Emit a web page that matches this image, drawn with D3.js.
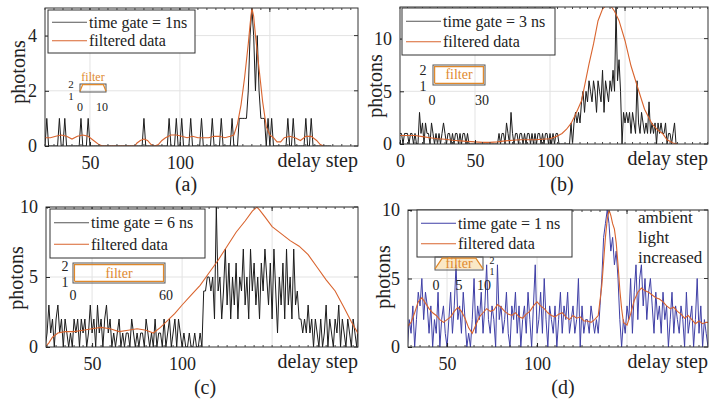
<!DOCTYPE html>
<html>
<head>
<meta charset="utf-8">
<script src="https://cdn.jsdelivr.net/npm/d3@7"></script>
<style>
body { margin: 0; background: #fff; }
</style>
</head>
<body>
<svg id="fig" width="709" height="401"></svg>
<script>
"use strict";

var SERIF = "'Liberation Serif', serif";
var ORANGE = "#d9642e";
var FILTER_TXT = "#e08a30";

// ---- (a) time gate = 1 ns ----
var aStart = 25;
var aRaw = [0,1,0,0,0,0,0,0,1,0, 0,1,0,0,0,0,0,0,0,0, 1,0,0,0,1,0,0,0,0,0,
  0,0,0,0,0,0,0,0,0,0, 0,0,0,0,0,0,0,0,0,0, 0,0,0,0,0,1,0,0,0,0,
  0,0,0,0,0,0,0,0,0,1, 0,0,0,1,0,0,1,0,0,0, 0,1,0,0,0,0,0,1,0,0,
  0,0,0,1,0,0,0,0,1,0, 0,0,0,0,1,0,0,0,1,1, 1,1,1,2,4,5,4,2,4,2,
  1,1,1,0,1,0,1,0,0,0, 0,0,0,0,0,1,0,0,1,0, 0,0,0,0,0,1,0,0,1,0,
  0,0,0,0,0,0,0,0,0,0];
var aFiltStep = [25,28,31,34,37,40,43,46,49,52,55,57,75,76,78,80,82,84,86,88,90,92,95,98,101,104,107,110,113,116,
  119,122,125,128,130,132,134,136,138,139,140,141,142,144,146,148,150,152,154,156,158,161,164,167,170,173,176,178,180];
var aFiltVal = [0.3,0.3,0.35,0.4,0.35,0.25,0.35,0.4,0.35,0.2,0.05,0,0,0.1,0.2,0.25,0.2,0.05,0,0.05,0.2,0.3,0.4,0.4,0.35,0.3,0.35,0.3,0.3,0.3,
  0.35,0.35,0.3,0.35,0.4,0.8,1.5,2.5,3.7,4.4,5,4.7,4.0,2.8,1.6,0.7,0.4,0.3,0.15,0.15,0.3,0.35,0.3,0.2,0.35,0.35,0.2,0.05,0];
var aKernelX = [0,1,9,10];
var aKernelY = [1,2,2,1];

// ---- (b) time gate = 3 ns ----
var bStart = 0;
var bRaw = [1,1,0,1,1,1,0,1,1,0, 1,0,0,3,1,2,0,2,1,1, 0,2,1,0,1,0,1,0,1,2,
  1,0,1,1,0,1,0,1,1,0, 1,0,1,1,0,1,0,0,0,0, 0,0,0,0,0,0,0,0,0,0,
  0,0,0,0,0,0,1,0,1,1, 0,2,1,0,3,1,0,1,1,0, 1,1,0,1,0,1,1,0,1,0,
  1,0,1,1,0,1,0,1,1,0, 1,0,1,0,1,1,0,0,0,0, 0,0,0,0,2,0,2,3,2,3,
  2,4,5,3,5,4,6,5,4,6, 5,3,6,5,4,7,3,6,5,4, 6,5,7,5,13,6,8,5,0,3,
  2,3,2,3,1,3,2,1,6,2, 1,3,2,1,2,1,4,1,2,1, 2,0,2,1,2,1,1,2,0,1,
  1,0,1,2,0,0];
var bFiltStep = [0,5,10,15,20,25,30,35,40,45,50,55,60,65,70,75,80,85,90,95,100,104,108,111,114,117,121,123,126,129,
  132,135,137,139,141,143,146,150,154,159,163,168,172,175,178,182,185];
var bFiltVal = [0.8,0.8,0.8,0.7,0.6,0.5,0.45,0.35,0.3,0.25,0.2,0.15,0.15,0.2,0.3,0.35,0.4,0.4,0.4,0.45,0.5,0.7,1.0,1.4,1.95,2.8,4.1,5.5,7.6,9.5,
  11.7,12.8,13.1,13.2,13.0,12.6,11.7,9.8,7.4,5.1,3.3,1.9,1.3,1.0,0.4,0.1,0];
var bKernelX = [0,0,30,30,0];
var bKernelY = [1,2,2,1,1];

// ---- (c) time gate = 6 ns ----
var cStart = 24;
var cRaw = [0,1,3,1,2,0,2,3,1,2, 0,2,1,0,1,0,2,1,2,0, 2,1,2,0,1,3,1,2,0,3,
  1,2,0,2,3,1,2,0,1,0, 1,2,0,1,0,1,1,0,2,1, 0,1,0,1,1,0,2,1,0,1,
  0,2,0,1,1,0,2,0,1,2, 0,1,2,0,2,1,0,1,0,0, 1,0,0,1,0,0,1,0,4,4,
  5,5,4,5,2,10,4,5,2,4, 7,3,6,2,5,3,6,2,5,4, 7,3,5,2,7,4,6,3,5,2,
  6,4,7,5,3,6,2,7,4,1, 5,3,6,2,7,3,5,2,7,3, 4,2,2,1,2,1,3,1,2,0,
  2,1,0,2,0,1,3,0,2,1, 0,2,1,3,0,2,1,0,2,1, 0,2,1,0,2];
var cFiltStep = [24,26,28,31,35,40,45,50,55,60,65,70,75,80,84,88,92,96,100,105,110,115,120,125,130,135,139,141.5,143,146,
  150,155,160,165,170,175,180,185,190,194,198];
var cFiltVal = [0,0.3,0.7,1.0,1.1,1.1,1.2,1.3,1.4,1.3,1.1,1.2,1.3,1.2,1.0,1.4,1.9,2.4,3.0,3.7,4.4,5.3,6.2,7.2,8.2,9.0,9.7,10.0,9.8,9.3,
  8.6,8.1,7.6,7.2,6.6,5.7,4.8,4.0,2.8,1.8,0.9];
var cKernelX = [0,0,60,60,0];
var cKernelY = [1,2,2,1,1];

// ---- (d) time gate = 1 ns, ambient light increased ----
var dStart = 28;
var dRaw = [0,2,1,3,0,2,4,3,5,2, 4,3,1,3,0,2,1,4,0,2, 3,1,0,2,4,1,3,6,2,3,
  1,4,2,0,1,0,2,5,1,3, 2,4,1,3,6,2,1,3,2,0, 6,2,3,1,2,4,1,0,3,2,
  4,1,3,0,2,3,1,4,2,0, 3,6,1,2,4,1,5,2,0,3, 2,1,3,0,2,4,1,3,2,4,
  1,2,3,1,2,5,0,3,1,2, 2,1,3,2,1,2,1,3,5,8, 9,10,9,7,8,6,7,5,2,0,
  2,1,3,2,5,1,4,6,2,5, 6,3,5,2,4,5,3,1,4,2, 3,1,4,2,3,0,2,4,1,3,
  2,1,3,2,0,4,1,2,3,0, 2,5,1,3,0,2,1,0];
var dFiltStep = [28,30,32,34,36,38,40,42,44,46,48,50,52,54,56,58,60,62,64,66,68,70,72,74,76,78,80,82,84,86,
  88,90,92,94,96,98,100,102,104,106,108,110,112,114,116,118,120,122,124,126,128,130,132,134,136,138,
  139,140,141,142,143,144,145,146,147,148,150,152,154,156,158,160,162,164,166,168,170,172,174,176,178,180,
  182,184,186,188,190,192,194,195];
var dFiltVal = [1.5,1.8,2.5,3.3,3.6,3.2,2.8,2.5,2.3,2.0,1.8,2.0,2.2,2.6,2.9,2.6,2.1,1.4,1.0,1.6,2.2,2.5,2.8,2.6,2.7,3.1,2.9,2.6,2.4,2.3,
  2.5,2.2,2.1,2.4,2.6,3.0,3.3,3.0,2.8,2.5,2.3,2.2,2.4,2.5,2.2,2.0,2.3,2.1,2.2,1.9,1.9,1.8,2.0,2.3,4.5,8.0,
  9.3,10.0,9.6,9.0,8.6,7.6,6.0,4.2,2.8,1.8,1.6,2.4,3.4,4.0,4.3,4.1,4.0,3.8,3.6,3.5,3.3,3.0,2.8,2.9,2.6,2.4,
  2.1,2.3,2.0,1.7,1.9,1.7,1.8,1.8];
var dKernelX = [0,1.5,8.5,10];
var dKernelY = [1,2,2,1];

var svg = d3.select("#fig");

var panels = [
  { id: "a", left: 45, right: 358, top: 8, bottom: 146, xDomain: [25, 199], yDomain: [0, 5],
    start: aStart, raw: aRaw, fStep: aFiltStep, fVal: aFiltVal, rawColor: "#1c1c1c", legendRaw: "#555",
    xTicks: [50, 100], yTicks: [0, 2, 4], xGrid: [50, 100, 150],
    legend: { x: 48, y: 10, w: 147, h: 43, label: "time gate = 1ns" },
    ylab: [18, 72], tag: [186, 191],
    inset: { box: [80, 106, 84, 92], xDom: [0, 10], yDom: [0.9, 2.1], kx: aKernelX, ky: aKernelY, fs: 12, yfs: 11,
      title: [93, 81], yl: [71, 88, 100], xl: [[0, 80], [10, 102]], xly: 111 } },
  { id: "b", left: 400, right: 708, top: 7, bottom: 144, xDomain: [0, 205.3], yDomain: [0, 13],
    start: bStart, raw: bRaw, fStep: bFiltStep, fVal: bFiltVal, rawColor: "#1c1c1c", legendRaw: "#555",
    xTicks: [0, 50, 100], yTicks: [0, 5, 10], xGrid: [50, 100, 150],
    legend: { x: 402, y: 8, w: 153, h: 47, label: "time gate = 3 ns" },
    ylab: [375, 86], tag: [562, 191],
    inset: { box: [433, 485, 65, 85], xDom: [-1, 31], yDom: [0.9, 2.1], kx: bKernelX, ky: bKernelY, fs: 14, yfs: 14,
      title: [459, 79], yl: [423, 75, 91], xl: [[0, 432], [30, 482]], xly: 105 } },
  { id: "c", left: 46, right: 358, top: 207, bottom: 347, xDomain: [24.4, 197.7], yDomain: [0, 10],
    start: cStart, raw: cRaw, fStep: cFiltStep, fVal: cFiltVal, rawColor: "#1c1c1c", legendRaw: "#555",
    xTicks: [50, 100], yTicks: [0, 5, 10], xGrid: [50, 100, 150],
    legend: { x: 50, y: 209, w: 155, h: 49, label: "time gate = 6 ns" },
    ylab: [16, 278], tag: [205, 394],
    inset: { box: [73, 165, 263, 283], xDom: [-1, 61], yDom: [0.9, 2.1], kx: cKernelX, ky: cKernelY, fs: 14, yfs: 14,
      title: [119, 278], yl: [65, 271, 287], xl: [[0, 73], [60, 166]], xly: 300 } },
  { id: "d", left: 408, right: 708, top: 210, bottom: 347, xDomain: [28.3, 195], yDomain: [0, 10],
    start: dStart, raw: dRaw, fStep: dFiltStep, fVal: dFiltVal, rawColor: "#3f3fa6", legendRaw: "#3f3fa6",
    xTicks: [50, 100], yTicks: [0, 5, 10], xGrid: [50, 100, 150],
    legend: { x: 417, y: 210, w: 155, h: 47, label: "time gate = 1 ns" },
    ylab: [383, 277], tag: [563, 394],
    inset: { box: [435, 483, 257, 270], xDom: [0, 10], yDom: [0.9, 2.1], kx: dKernelX, ky: dKernelY, fs: 14, yfs: 10,
      title: [459, 268], yl: [492, 264, 275], xl: [[0, 436], [5, 459], [10, 484]], xly: 290, fill: true } }
];

panels.forEach(drawPanel);

// note in (d)
svg.append("text").attr("x", 638).attr("y", 223).attr("font-size", 17).attr("fill", "#222")
  .selectAll("tspan").data(["ambient", "light", "increased"]).enter().append("tspan")
  .attr("x", 638).attr("dy", function (d, i) { return i ? 20 : 0; }).text(function (d) { return d; });

// Times-like face for every label
svg.selectAll("text").style("font-family", SERIF);

function drawPanel(p) {
  var g = svg.append("g");
  var x = d3.scaleLinear().domain(p.xDomain).range([p.left, p.right]);
  var y = d3.scaleLinear().domain(p.yDomain).range([p.bottom, p.top]);

  // grid
  g.selectAll(null).data(p.xGrid).enter().append("line")
    .attr("x1", x).attr("x2", x).attr("y1", p.top).attr("y2", p.bottom)
    .attr("stroke", "#e3e3e3").attr("stroke-width", 1);
  g.selectAll(null).data(p.yTicks.slice(1)).enter().append("line")
    .attr("x1", p.left).attr("x2", p.right).attr("y1", y).attr("y2", y)
    .attr("stroke", "#e3e3e3").attr("stroke-width", 1);

  svg.append("clipPath").attr("id", "clip" + p.id).append("rect")
    .attr("x", p.left).attr("y", p.top).attr("width", p.right - p.left).attr("height", p.bottom - p.top);

  var rawLine = d3.line().x(function (v, i) { return x(p.start + i); }).y(function (v) { return y(v); });
  g.append("path").attr("clip-path", "url(#clip" + p.id + ")").attr("d", rawLine(p.raw))
    .attr("fill", "none").attr("stroke", p.rawColor).attr("stroke-width", 1);

  var filtLine = d3.line().x(function (d) { return x(d[0]); }).y(function (d) { return y(d[1]); });
  g.append("path").attr("clip-path", "url(#clip" + p.id + ")").attr("d", filtLine(d3.zip(p.fStep, p.fVal)))
    .attr("fill", "none").attr("stroke", ORANGE).attr("stroke-width", 1.1);

  // frame
  g.append("rect").attr("x", p.left).attr("y", p.top).attr("width", p.right - p.left).attr("height", p.bottom - p.top)
    .attr("fill", "none").attr("stroke", "#333").attr("stroke-width", 1);

  // minor ticks on top and bottom edges
  var minor = d3.range(Math.ceil(p.xDomain[0] / 5) * 5, p.xDomain[1], 5);
  g.selectAll(null).data(minor).enter().append("line")
    .attr("x1", x).attr("x2", x).attr("y1", p.bottom).attr("y2", p.bottom - 2).attr("stroke", "#444");
  g.selectAll(null).data(minor).enter().append("line")
    .attr("x1", x).attr("x2", x).attr("y1", p.top).attr("y2", p.top + 2).attr("stroke", "#444");
  g.selectAll(null).data(p.xGrid).enter().append("line")
    .attr("x1", x).attr("x2", x).attr("y1", p.top).attr("y2", p.top + 4).attr("stroke", "#333");
  g.selectAll(null).data(p.yTicks).enter().append("line")
    .attr("x1", p.right).attr("x2", p.right - 4).attr("y1", y).attr("y2", y).attr("stroke", "#333");

  // axes
  var xa = d3.axisBottom(x).tickValues(p.xTicks).tickSize(-4).tickSizeOuter(0).tickPadding(10).tickFormat(d3.format("d"));
  g.append("g").attr("transform", "translate(0," + p.bottom + ")").call(xa)
    .attr("font-size", 18).style("color", "#222")
    .call(function (s) { s.select(".domain").remove(); });
  var ya = d3.axisLeft(y).tickValues(p.yTicks).tickSize(-4).tickSizeOuter(0).tickPadding(8).tickFormat(d3.format("d"));
  g.append("g").attr("transform", "translate(" + p.left + ",0)").call(ya)
    .attr("font-size", 18).style("color", "#222")
    .call(function (s) { s.select(".domain").remove(); });

  // labels
  g.append("text").attr("transform", "translate(" + p.ylab[0] + "," + p.ylab[1] + ") rotate(-90)")
    .attr("dy", "0.35em").attr("text-anchor", "middle").attr("font-size", 20)
    .attr("fill", "#222").text("photons");
  g.append("text").attr("x", p.right).attr("y", p.bottom + 21).attr("text-anchor", "end")
    .attr("font-size", 20).attr("fill", "#222").text("delay step");
  g.append("text").attr("x", p.tag[0]).attr("y", p.tag[1]).attr("text-anchor", "middle")
    .attr("font-size", 20).attr("fill", "#222").text("(" + p.id + ")");

  drawLegend(g, p);
  drawInset(g, p.inset);
}

function drawLegend(g, p) {
  var L = p.legend;
  g.append("rect").attr("x", L.x).attr("y", L.y).attr("width", L.w).attr("height", L.h)
    .attr("fill", "#fff").attr("stroke", "#333").attr("stroke-width", 1);
  var rows = [{ c: p.legendRaw, t: L.label }, { c: ORANGE, t: "filtered data" }];
  var rowH = (L.h - 6) / 2;
  rows.forEach(function (r, i) {
    var cy = L.y + 3 + rowH * (i + 0.5);
    g.append("line").attr("x1", L.x + 4).attr("x2", L.x + 39).attr("y1", cy).attr("y2", cy)
      .attr("stroke", r.c).attr("stroke-width", 1);
    g.append("text").attr("x", L.x + 41).attr("y", cy).attr("dy", "0.33em")
      .attr("font-size", 16).attr("fill", "#222").text(r.t);
  });
}

function drawInset(g, s) {
  var ix = d3.scaleLinear().domain(s.xDom).range([s.box[0], s.box[1]]);
  var iy = d3.scaleLinear().domain(s.yDom).range([s.box[3], s.box[2]]);
  var pts = d3.zip(s.kx, s.ky);
  if (s.fill) {
    g.append("path").attr("d", d3.area().x(function (d) { return ix(d[0]); }).y0(iy(1)).y1(function (d) { return iy(d[1]); })(pts))
      .attr("fill", "#f7d9a0").attr("opacity", 0.6);
  }
  g.append("rect").attr("x", s.box[0]).attr("y", s.box[2]).attr("width", s.box[1] - s.box[0]).attr("height", s.box[3] - s.box[2])
    .attr("fill", "none").attr("stroke", "#555").attr("stroke-width", 1);
  g.append("path").attr("d", d3.line().x(function (d) { return ix(d[0]); }).y(function (d) { return iy(d[1]); })(pts))
    .attr("fill", "none").attr("stroke", "#e0882a").attr("stroke-width", 1.2);
  g.append("text").attr("x", s.title[0]).attr("y", s.title[1]).attr("text-anchor", "middle")
    .attr("font-size", s.fs).attr("fill", FILTER_TXT).text("filter");
  g.append("text").attr("x", s.yl[0]).attr("y", s.yl[1]).attr("text-anchor", "middle")
    .attr("font-size", s.yfs).attr("fill", "#222").text("2");
  g.append("text").attr("x", s.yl[0]).attr("y", s.yl[2]).attr("text-anchor", "middle")
    .attr("font-size", s.yfs).attr("fill", "#222").text("1");
  s.xl.forEach(function (t) {
    g.append("text").attr("x", t[1]).attr("y", s.xly).attr("text-anchor", "middle")
      .attr("font-size", s.fs).attr("fill", "#222").text(t[0]);
  });
}
</script>
</body>
</html>
